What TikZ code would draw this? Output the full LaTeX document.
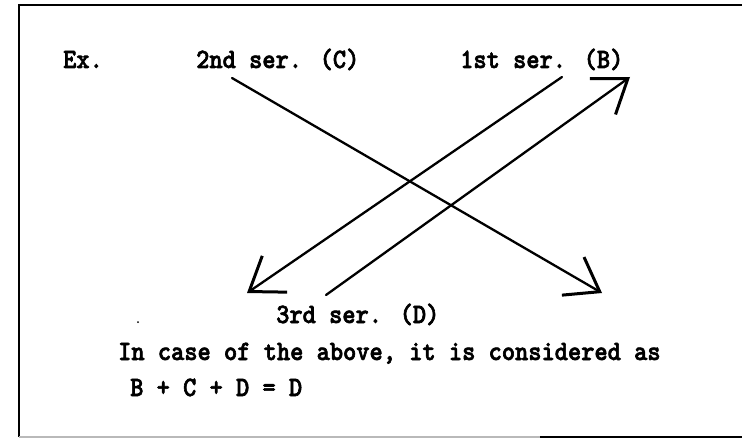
\documentclass[tikz,border=0pt]{standalone}
\usepackage{fontspec}
\newfontfamily\printfont[FakeStretch=0.9, FakeBold=2.2]{lmmonolt10-bold.otf}
\usetikzlibrary{arrows.meta}

\begin{document}
\begin{tikzpicture}[
    x=1pt,
    y=1pt,
    every node/.style={inner sep=0pt, anchor=base west,
        font=\printfont\fontsize{28}{32}\selectfont},
    seriesarrow/.style={line width=2.3pt, line cap=round,
        -{Straight Barb[length=31pt 0 0, width=44pt 0 0, line width=3pt]}}
]
    \useasboundingbox (0,0) rectangle (742,440);
    % frame (open on the right)
    \draw[line width=1.6pt] (742,435) -- (19,435) -- (19,3);
    \draw[gray!55, line width=1.4pt] (19,3) -- (540,3);
    \draw[line width=1.6pt] (540,3) -- (742,3);
    % labels
    \node (ex)   at (63,372)  {Ex.};
    \node (serC) at (196,372) {2nd ser. (C)};
    \node (serB) at (460,372) {1st ser. (B)};
    \node (serD) at (276,117) {3rd ser. (D)};
    \node (note) at (118,80)  {In case of the above, it is considered as};
    \node (sum)  at (130,44)  {B + C + D = D};
    \fill (138,118) circle (1pt);
    % arrows
    \coordinate (cStart) at (232,362);
    \coordinate (cEnd)   at (602,147);
    \coordinate (bStart) at (562,363);
    \coordinate (bEnd)   at (247,147);
    \coordinate (dStart) at (326,145);
    \coordinate (dEnd)   at (630,363);
    \draw[seriesarrow] (cStart) -- (cEnd);
    \draw[seriesarrow] (bStart) -- (bEnd);
    \draw[seriesarrow] (dStart) -- (dEnd);
\end{tikzpicture}
\end{document}
